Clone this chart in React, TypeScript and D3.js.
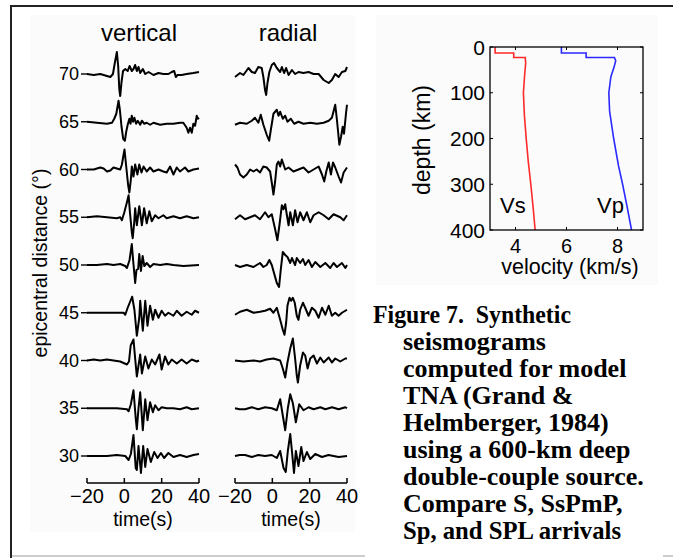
import React from "react";
import * as d3 from "d3";

type P = [number, number];

// epicentral distances (degrees), top to bottom
const distances = [70, 65, 60, 55, 50, 45, 40, 35, 30];
const timeTicks = [-20, 0, 20, 40];
const depthTicks = [0, 100, 200, 300, 400];
const velocityTicks = [4, 6, 8];

// vertical component traces: [time (s), amplitude]
const vertical70: P[] = [[-20,0],[-16.4,-1],[-12.9,0],[-9.3,-2],[-7.5,-3],[-6.1,0],[-5.2,10],[-4.0,22],[-3.3,8],[-2.7,-15],[-2.2,-22],[-1.5,-8],[-0.7,3],[0.5,5],[1.8,3],[2.8,8],[4.0,3],[4.9,5],[5.8,9],[6.7,3],[7.6,7],[8.5,1],[9.9,5],[11.2,0],[13.0,2],[15.6,-1],[18.3,1],[20.9,0],[23.6,0],[25.4,2],[26.7,3],[27.6,-3],[28.5,-1],[30.7,-1],[33.4,0],[37.0,1],[40,2]];
const vertical65: P[] = [[-20,0],[-14.7,-1],[-9.3,-2],[-6.6,-1],[-5.4,3],[-4.3,8],[-3.1,21],[-2.4,12],[-1.5,-5],[-0.6,-17],[0.3,-19],[1.0,-10],[1.8,-3],[2.7,3],[3.3,-2],[4.0,6],[4.7,0],[5.4,4],[6.3,-2],[7.2,1],[8.5,-3],[9.4,1],[10.7,-2],[12.0,-1],[13.8,-3],[15.6,-1],[19.2,-3],[22.7,-2],[26.3,-2],[29.8,-1],[31.6,-1],[33.4,-6],[34.3,-11],[35.2,-6],[36.1,-11],[37.0,-2],[37.9,-4],[38.8,6],[39.4,3],[40,4]];
const vertical60: P[] = [[-20,0],[-16.4,0],[-12.9,2],[-11.1,1],[-9.3,-2],[-7.5,-1],[-5.8,2],[-4.0,1],[-2.2,0],[-1.3,5],[-0.4,15],[0.1,20],[0.9,5],[2.0,-15],[2.7,-23],[3.5,-10],[4.0,3],[4.9,-7],[5.8,5],[7.0,-5],[8.0,5],[9.2,-3],[10.3,3],[12.0,-2],[13.8,2],[15.6,-2],[18.3,0],[20.9,-2],[22.7,-3],[24.5,3],[26.3,-5],[28.1,2],[29.8,-2],[32.5,2],[34.3,-2],[37.0,0],[40,1]];
const vertical55: P[] = [[-20,0],[-14.7,1],[-9.3,0],[-4.0,-1],[-2.2,0],[-1.3,-3],[0.0,5],[1.4,15],[2.3,22],[3.0,5],[4.0,-15],[4.5,-21],[5.3,-5],[5.8,9],[6.7,-8],[8.0,11],[9.4,-8],[10.6,9],[12.0,-6],[13.4,6],[14.7,-4],[16.5,2],[18.3,-1],[20.9,2],[22.7,-1],[26.3,1],[29.8,-1],[33.4,1],[37.0,-1],[40,0]];
const vertical50: P[] = [[-20,0],[-14.7,0],[-9.3,1],[-5.8,0],[-2.2,1],[0.5,-1],[1.4,-3],[2.8,5],[4.0,21],[4.7,5],[5.8,-18],[6.5,-5],[7.4,-4],[8.0,11],[8.9,-6],[9.8,9],[10.7,-1],[12.0,2],[13.8,-2],[15.6,1],[19.2,0],[22.7,1],[26.3,0],[31.6,-1],[40,0]];
const vertical45: P[] = [[-20,0],[-14.7,0],[-9.3,0],[-4.0,0],[-0.4,0],[0.5,-2],[1.8,5],[3.3,12],[4.2,16],[5.4,3],[6.7,-23],[8.0,-5],[8.5,12],[9.9,-18],[11.2,12],[12.4,-13],[13.8,7],[15.3,-7],[16.5,3],[18.3,-5],[20.0,2],[21.8,-3],[23.6,0],[26.3,-3],[28.1,2],[30.7,-3],[33.4,1],[36.1,-2],[37.9,2],[40,0]];
const vertical40: P[] = [[-20,0],[-16.4,1],[-12.9,0],[-9.3,1],[-5.8,0],[-2.2,-1],[1.4,-4],[2.5,-1],[3.4,15],[4.9,21],[5.8,2],[6.7,-16],[7.6,-5],[8.5,6],[9.4,-13],[11.2,4],[12.9,-8],[14.7,1],[16.5,-4],[18.8,6],[20.0,-9],[21.8,4],[23.6,-4],[25.4,1],[28.1,-3],[30.7,1],[33.4,-3],[36.1,1],[38.8,-1],[40,0]];
const vertical35: P[] = [[-20,0],[-14.7,0],[-9.3,0],[-4.0,0],[1.4,-1],[2.3,-3],[3.5,4],[4.9,18],[6.1,-10],[6.7,-21],[7.6,0],[8.5,16],[9.9,-22],[11.2,9],[12.4,-12],[13.8,6],[15.3,-4],[16.5,3],[18.3,-2],[20.0,1],[22.7,0],[26.3,0],[29.8,-1],[33.4,1],[36.1,-1],[40,0]];
const vertical30: P[] = [[-20,0],[-14.7,0],[-9.3,0],[-4.0,1],[0.5,0],[2.3,-4],[3.5,2],[4.9,21],[6.1,-12],[6.7,-14],[7.6,10],[8.9,-17],[10.1,10],[11.2,-11],[12.4,7],[14.2,-6],[16.0,4],[17.8,-2],[19.6,3],[21.3,-2],[23.6,3],[26.3,-1],[29.8,1],[33.4,-1],[37.0,1],[40,2]];

// radial component traces: [time (s), amplitude]
const radial70: P[] = [[-20,-3],[-17.3,1],[-15.5,-1],[-12.8,6],[-11.0,2],[-9.3,1],[-7.5,7],[-5.7,6],[-4.8,-3],[-3.9,-16],[-3.3,-21],[-2.6,-9],[-1.6,2],[-0.3,9],[0.9,11],[2.4,6],[4.2,2],[5.1,7],[6.3,1],[7.4,6],[8.7,-1],[10.5,4],[12.2,0],[14.0,2],[16.7,1],[19.4,2],[22.1,0],[24.8,0],[27.5,-6],[30.2,-9],[31.9,-6],[33.7,0],[35.5,-3],[37.3,2],[39.1,3],[40,7]];
const radial65: P[] = [[-20,-3],[-17.3,-1],[-13.7,-2],[-11.0,1],[-9.3,4],[-7.5,-1],[-6.2,7],[-4.8,-3],[-3.0,-13],[-1.7,-19],[-0.8,-8],[0.6,8],[2.4,12],[3.3,6],[4.2,10],[5.6,3],[6.9,6],[8.1,0],[9.9,3],[11.7,-2],[14.0,0],[16.7,-2],[20.3,-1],[23.9,-2],[27.5,-1],[30.2,1],[31.9,4],[33.7,17],[34.6,2],[35.9,-23],[36.8,-15],[37.7,-5],[38.4,-12],[39.5,9],[40,17]];
const radial60: P[] = [[-20,5],[-18.7,2],[-17.3,-5],[-15.5,-8],[-13.7,-5],[-11.9,0],[-10.1,-2],[-8.4,0],[-6.6,-3],[-4.8,3],[-3.0,2],[-1.2,-2],[-0.3,-13],[0.6,-25],[1.5,-12],[2.4,5],[3.3,8],[4.2,3],[5.1,10],[6.0,5],[6.9,0],[8.7,2],[11.3,-2],[14.0,0],[16.7,2],[19.4,-3],[22.1,0],[24.8,3],[26.6,-5],[27.8,-12],[28.9,-2],[30.2,7],[31.4,-5],[32.5,7],[33.7,2],[35.5,-7],[36.8,-13],[38.2,-3],[40,2]];
const radial55: P[] = [[-20,-2],[-17.3,2],[-14.6,-2],[-11.9,0],[-9.3,2],[-6.6,-2],[-3.9,5],[-2.1,0],[-0.3,3],[1.5,-12],[2.7,-23],[3.8,-8],[5.1,12],[6.0,8],[6.9,13],[7.8,2],[8.7,-8],[9.6,5],[11.0,-8],[12.2,7],[13.5,-5],[14.9,5],[16.7,-3],[18.5,5],[20.3,-5],[22.1,2],[24.8,5],[27.5,2],[30.2,-2],[32.8,3],[36.4,0],[38.2,-3],[40,2]];
const radial50: P[] = [[-20,0],[-17.3,-2],[-13.7,0],[-10.1,-2],[-6.6,2],[-4.8,-2],[-3.0,0],[-1.6,5],[-0.3,0],[0.9,-8],[2.4,-18],[3.6,-22],[4.5,-5],[5.6,13],[6.9,10],[8.1,8],[9.6,2],[10.5,7],[12.2,0],[13.1,7],[14.9,2],[16.4,6],[17.6,0],[19.4,5],[21.2,-2],[23.0,3],[25.7,-2],[28.4,2],[31.0,-3],[32.8,2],[34.6,-2],[37.3,2],[39.1,-3],[40,0]];
const radial45: P[] = [[-20,-2],[-17.3,1],[-13.7,3],[-10.1,0],[-6.6,1],[-3.9,2],[-1.2,4],[0.6,0],[2.4,5],[4.2,-7],[5.6,-17],[6.5,-22],[7.4,-10],[8.1,7],[9.2,15],[10.1,12],[11.0,15],[12.0,10],[13.1,-3],[14.0,-7],[14.9,3],[16.4,10],[17.6,5],[19.4,-3],[21.2,5],[23.0,2],[24.8,-5],[26.6,5],[28.4,-2],[30.2,7],[31.9,-3],[33.7,0],[35.5,-3],[37.3,0],[39.1,2],[40,3]];
const radial40: P[] = [[-20,0],[-15.5,-1],[-10.1,0],[-6.6,-1],[-3.0,1],[0.6,2],[4.2,0],[5.6,-8],[6.9,-17],[8.1,-2],[9.6,12],[11.0,22],[12.2,2],[13.1,-15],[13.7,-22],[14.9,-5],[16.4,8],[17.6,5],[18.9,-8],[20.3,2],[22.1,5],[23.9,-3],[25.7,3],[27.5,-2],[30.2,3],[31.9,-2],[33.7,2],[36.4,-1],[39.1,2],[40,2]];
const radial35: P[] = [[-20,0],[-17.5,-1],[-14.6,-1],[-11.0,1],[-7.5,-1],[-3.9,1],[-0.3,0],[2.4,-2],[4.2,9],[5.4,-5],[6.9,-22],[8.3,0],[9.6,14],[11.0,5],[12.6,-14],[14.4,4],[16.7,-2],[19.4,1],[22.1,-1],[25.7,1],[28.4,-1],[32.0,1],[35.5,-1],[39.1,1],[40,0]];
const radial30: P[] = [[-20,0],[-17.5,1],[-14.6,1],[-11.0,-1],[-7.5,1],[-3.9,0],[-0.3,1],[2.4,-2],[4.2,5],[6.0,-12],[7.2,-16],[8.3,5],[9.6,22],[10.5,5],[11.6,-17],[12.6,5],[14.0,-10],[15.5,9],[16.7,-5],[18.5,4],[20.3,-3],[23.0,2],[26.6,-1],[30.1,1],[35.5,-1],[40,0]];

const verticalTraces: P[][] = [vertical70, vertical65, vertical60, vertical55, vertical50, vertical45, vertical40, vertical35, vertical30];
const radialTraces: P[][] = [radial70, radial65, radial60, radial55, radial50, radial45, radial40, radial35, radial30];

// velocity model TNA: [depth (km), velocity (km/s)]
const vsProfile: P[] = [[0,3.2],[13,3.2],[13,3.93],[23,3.93],[23,4.38],[35,4.4],[60,4.36],[100,4.31],[150,4.35],[200,4.42],[250,4.5],[300,4.6],[350,4.69],[400,4.77]];
const vpProfile: P[] = [[0,5.8],[13,5.8],[13,6.77],[23,6.77],[23,7.88],[30,7.93],[45,7.86],[65,7.74],[100,7.66],[140,7.69],[200,7.85],[260,8.04],[300,8.2],[350,8.38],[400,8.55]];

const captionLines = [
  "Figure 7.  Synthetic",
  "seismograms",
  "computed for model",
  "TNA (Grand &",
  "Helmberger, 1984)",
  "using a 600-km deep",
  "double-couple source.",
  "Compare S, SsPmP,",
  "Sp, and SPL arrivals",
];

const SANS = "'Liberation Sans', Arial, Helvetica, sans-serif";
const SERIF = "'Liberation Serif', 'Times New Roman', serif";

const fmt = (v: number) => (v < 0 ? "\u2212" + Math.abs(v) : String(v));

export default function App() {
  const W = 673, H = 558;
  const xVert = d3.scaleLinear().domain([-20, 40]).range([87, 199]);
  const xRad = d3.scaleLinear().domain([-20, 40]).range([235, 347]);
  const yDist = d3.scaleLinear().domain([30, 70]).range([456, 74]);
  const amp = d3.scaleLinear().domain([-25, 25]).range([25, -25]);

  const xVel = d3.scaleLinear().domain([3, 9]).range([490, 643]);
  const yDepth = d3.scaleLinear().domain([0, 400]).range([47, 230]);

  const traceLine = (xs: d3.ScaleLinear<number, number>, dist: number) =>
    d3.line<P>().x((d) => xs(d[0])).y((d) => yDist(dist) + amp(d[1]));
  const velLine = d3.line<P>().x((d) => xVel(d[1])).y((d) => yDepth(d[0]));

  const axisY = 483;

  return (
    <svg width={W} height={H} viewBox={`0 0 ${W} ${H}`} style={{ position: "absolute", left: 0, top: 0, background: "#fff" }}>
      <rect x={0} y={0} width={W} height={H} fill="#fff" />
      {/* faint panel backgrounds */}
      <rect x={30} y={15} width={325} height={517} fill="#fbfbfb" />
      <rect x={376} y={15} width={282} height={270} fill="#fbfbfb" />
      {/* frame */}
      <line x1={10} y1={556} x2={673} y2={556} stroke="#bdbdbd" strokeWidth={1.5} />
      <line x1={10} y1={6} x2={673} y2={6} stroke="#222" strokeWidth={2} />
      <line x1={11} y1={5} x2={11} y2={558} stroke="#222" strokeWidth={2} />

      {/* seismogram panels */}
      <g fontFamily={SANS} fill="#000">
        <text x={139} y={41} fontSize={24} textAnchor="middle">vertical</text>
        <text x={288} y={41} fontSize={24} textAnchor="middle">radial</text>

        {distances.map((d, i) => (
          <g key={d}>
            <text x={79} y={yDist(d)} fontSize={18} textAnchor="end" dominantBaseline="central">{d}</text>
            <line x1={81} x2={88} y1={yDist(d)} y2={yDist(d)} stroke="#000" strokeWidth={1.4} />
            <path d={traceLine(xVert, d)(verticalTraces[i]) || ""} fill="none" stroke="#000" strokeWidth={2} strokeLinejoin="round" />
            <path d={traceLine(xRad, d)(radialTraces[i]) || ""} fill="none" stroke="#000" strokeWidth={2} strokeLinejoin="round" />
          </g>
        ))}

        <text transform={`translate(47,263) rotate(-90)`} fontSize={19.5} textAnchor="middle">epicentral distance (°)</text>

        {[xVert, xRad].map((xs, k) => (
          <g key={k}>
            <line x1={xs(-20)} x2={xs(40)} y1={axisY} y2={axisY} stroke="#000" strokeWidth={1.5} />
            {timeTicks.map((t) => (
              <g key={t}>
                <line x1={xs(t)} x2={xs(t)} y1={axisY} y2={axisY - 5} stroke="#000" strokeWidth={1.5} />
                <text x={xs(t)} y={503} fontSize={20} textAnchor="middle">{fmt(t)}</text>
              </g>
            ))}
            <text x={xs(10)} y={526} fontSize={19.5} textAnchor="middle">time(s)</text>
          </g>
        ))}
      </g>

      {/* velocity model */}
      <g fontFamily={SANS} fill="#000">
        <path d={velLine(vsProfile) || ""} fill="none" stroke="#ff2a2a" strokeWidth={1.6} />
        <path d={velLine(vpProfile) || ""} fill="none" stroke="#2a2aff" strokeWidth={1.6} />
        <rect x={xVel(3)} y={yDepth(0)} width={xVel(9) - xVel(3)} height={yDepth(400) - yDepth(0)} fill="none" stroke="#000" strokeWidth={1.3} />
        {depthTicks.map((d) => (
          <g key={d}>
            <line x1={xVel(3)} x2={xVel(3) + 3} y1={yDepth(d)} y2={yDepth(d)} stroke="#000" />
            <line x1={xVel(9)} x2={xVel(9) - 3} y1={yDepth(d)} y2={yDepth(d)} stroke="#000" />
            <text x={485} y={yDepth(d)} fontSize={21} textAnchor="end" dominantBaseline="central">{d}</text>
          </g>
        ))}
        {velocityTicks.map((v) => (
          <g key={v}>
            <line x1={xVel(v)} x2={xVel(v)} y1={yDepth(0)} y2={yDepth(0) + 3} stroke="#000" />
            <line x1={xVel(v)} x2={xVel(v)} y1={yDepth(400)} y2={yDepth(400) - 3} stroke="#000" />
            <text x={xVel(v)} y={253} fontSize={20} textAnchor="middle">{v}</text>
          </g>
        ))}
        <text x={570} y={274} fontSize={21.5} textAnchor="middle">velocity (km/s)</text>
        <text transform={`translate(430,140) rotate(-90)`} fontSize={23} textAnchor="middle">depth (km)</text>
        <text x={500} y={213} fontSize={22}>Vs</text>
        <text x={597} y={213} fontSize={22}>Vp</text>
      </g>

      {/* caption */}
      <rect x={365} y={292} width={298} height={266} fill="#fff" />
      <g fontFamily={SERIF} fontWeight="bold" fontSize={26} fill="#000">
        {captionLines.map((line, i) => (
          <text
            key={i}
            x={i === 0 ? 373 : 403}
            y={323 + i * 27}
            style={{ whiteSpace: "pre" }}
            {...(i === 0 ? { textLength: 198, lengthAdjust: "spacingAndGlyphs" } : {})}
            {...(i === captionLines.length - 1 ? { textLength: 218, lengthAdjust: "spacingAndGlyphs" } : {})}
          >{line}</text>
        ))}
      </g>
    </svg>
  );
}
